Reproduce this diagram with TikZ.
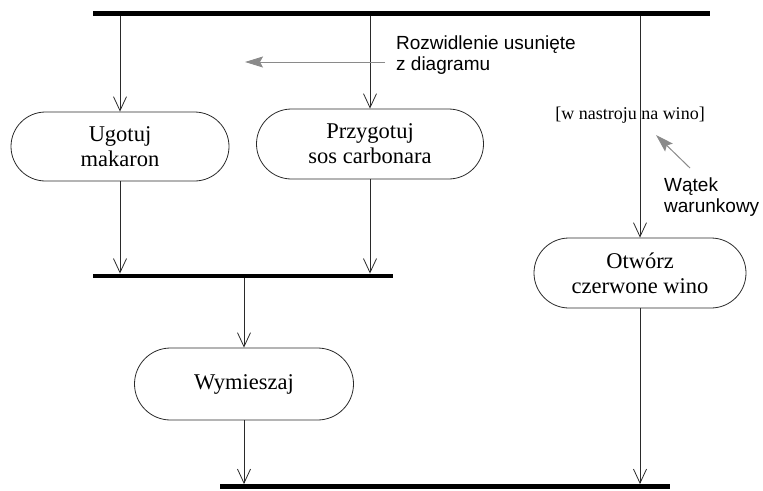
\documentclass[tikz,border=0pt]{standalone}
\usepackage{fontspec}
\setmainfont{Liberation Serif}
\setsansfont{Liberation Sans}
\usetikzlibrary{arrows.meta,shapes.misc}
\definecolor{ink}{HTML}{2A2A2A}
\definecolor{note}{HTML}{8A8A8A}
\tikzset{
  actbox/.style={draw=ink, line width=0.8pt, rounded rectangle, rounded rectangle arc length=180,
    align=center, font=\fontsize{22.5}{25}\selectfont, inner sep=0pt},
  barnode/.style={fill=black, rectangle, inner sep=0pt, minimum height=4.5pt},
  flow/.style={draw=ink, line width=0.8pt, -{Straight Barb[length=14pt,width=13pt,line width=0.8pt]}},
  plain/.style={draw=ink, line width=0.8pt},
  notearrow/.style={draw=note, line width=1pt, -{Stealth[length=18pt,width=11pt,inset=3pt]}},
  notetext/.style={font=\sffamily\fontsize{19}{21}\selectfont, align=left, inner sep=0pt, anchor=west},
  condtext/.style={font=\fontsize{18}{20}\selectfont, inner sep=0pt}
}
\begin{document}
\begin{tikzpicture}[x=1pt,y=-1pt]
\useasboundingbox (0,0) rectangle (763,490);
% bars
\node[barnode, minimum width=617pt] (top) at (401.5,13.5) {};
\node[barnode, minimum width=300pt] (join) at (243,276) {};
\node[barnode, minimum width=450pt] (bot) at (445,486.5) {};
% activities
\node[actbox, minimum width=218pt, minimum height=69pt] (ugotuj) at (120,146.5) {Ugotuj\\makaron};
\node[actbox, minimum width=227pt, minimum height=70pt] (sos) at (370,144) {Przygotuj\\sos carbonara};
\node[actbox, minimum width=219pt, minimum height=72pt] (mix) at (244,384) {Wymieszaj};
\node[actbox, minimum width=212pt, minimum height=70pt] (wino) at (640,273) {Otwórz\\czerwone wino};
% guard and notes
\node[condtext] (guard) at (630,115) {[w nastroju na wino]};
\node[notetext] (fork) at (396,55) {Rozwidlenie usunięte\\z diagramu};
\node[notetext] (thread) at (664,197.5) {Wątek\\warunkowy};
\coordinate (forktail) at (385,62);
\coordinate (forktip) at (245,62);
\coordinate (thtail) at (690,168);
\coordinate (thtip) at (656,135);
% flows
\draw[flow] (top.south -| ugotuj.north) -- (ugotuj.north);
\draw[flow] (top.south -| sos.north) -- (sos.north);
\draw[flow] (top.south -| wino.north) -- (wino.north);
\draw[flow] (ugotuj.south) -- (join.north -| ugotuj.south);
\draw[flow] (sos.south) -- (join.north -| sos.south);
\draw[flow] (join.south -| mix.north) -- (mix.north);
\draw[flow] (mix.south) -- (bot.north -| mix.south);
\draw[flow] (wino.south) -- (bot.north -| wino.south);
% note arrows
\draw[notearrow] (forktail) -- (forktip);
\draw[notearrow] (thtail) -- (thtip);
\end{tikzpicture}
\end{document}
